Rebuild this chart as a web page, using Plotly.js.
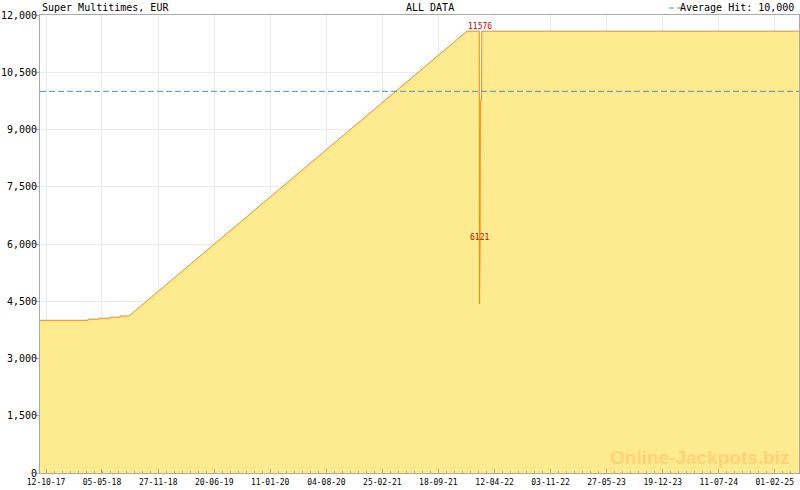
<!DOCTYPE html>
<html>
<head>
<meta charset="utf-8">
<script src="https://cdn.plot.ly/plotly-3.0.1.min.js"></script>
<style>html,body{margin:0;padding:0;background:#fff;}#chart{width:800px;height:490px;}</style>
</head>
<body>
<div id="chart"></div>
<script>
// ---- data ----
var dates = ['2017-09-20','2018-03-15','2018-03-15','2018-04-24','2018-04-24','2018-06-03','2018-06-03','2018-07-10','2018-07-10','2018-08-12','2022-01-01','2022-02-15','2022-02-16','2022-02-18','2022-02-19','2022-02-23','2022-02-24','2025-05-01'];
var jackpot = [4000,4000,4030,4030,4055,4055,4080,4080,4115,4115,11576,11576,4430,6121,9770,9770,11576,11576];
var averageHit = 10000;
var maxLabel = {date:'2022-02-16', value:11576, text:'11576'};
var minLabel = {date:'2022-02-16', value:6121, text:'6121'};
var xTickVals = ['2017-10-12','2018-05-05','2018-11-27','2019-06-20','2020-01-11','2020-08-04','2021-02-25','2021-09-18','2022-04-12','2022-11-03','2023-05-27','2023-12-19','2024-07-11','2025-02-01'];
var xTickText = ['12-10-17','05-05-18','27-11-18','20-06-19','11-01-20','04-08-20','25-02-21','18-09-21','12-04-22','03-11-22','27-05-23','19-12-23','11-07-24','01-02-25'];
var yTickVals = [0,1500,3000,4500,6000,7500,9000,10500,12000];
var yTickText = ['0','1,500','3,000','4,500','6,000','7,500','9,000','10,500','12,000'];

var mono = 'DejaVu Sans Mono, monospace';
var gray = '#aaaaaa';

var trace = {
  x: dates, y: jackpot, type: 'scatter', mode: 'lines',
  line: {color: '#ff8a00', width: 1},
  fill: 'tozeroy', fillcolor: '#feea8f',
  hoverinfo: 'skip', showlegend: false
};

var layout = {
  width: 800, height: 490,
  margin: {l: 40, r: 1, t: 15, b: 17, pad: 0},
  paper_bgcolor: '#ffffff', plot_bgcolor: '#ffffff',
  showlegend: false,
  font: {family: mono, size: 10, color: '#000'},
  xaxis: {
    type: 'date', range: ['2017-09-20','2025-05-01'],
    tickmode: 'array', tickvals: xTickVals, ticktext: xTickText,
    tickfont: {family: mono, size: 8, color: '#000'},
    ticks: 'inside', ticklen: 4, tickcolor: gray, tickwidth: 1, ticklabelstandoff: 1,
    showgrid: true, gridcolor: '#ebebeb', gridwidth: 1,
    showline: true, linecolor: gray, linewidth: 1, mirror: true,
    zeroline: false, fixedrange: true,
    minor: {tick0: '2017-10-12', dtick: 29.33*86400000, ticks: 'inside', ticklen: 2, tickcolor: gray, showgrid: false}
  },
  yaxis: {
    range: [0, 12000],
    tickmode: 'array', tickvals: yTickVals, ticktext: yTickText,
    tickfont: {family: mono, size: 10, color: '#000'},
    ticks: 'outside', ticklen: 3, tickcolor: gray, ticklabelstandoff: -3,
    showgrid: true, gridcolor: '#ebebeb', gridwidth: 1,
    showline: true, linecolor: gray, linewidth: 1, mirror: true,
    zeroline: false, fixedrange: true
  },
  shapes: [
    {type: 'line', xref: 'paper', x0: 0, x1: 1, yref: 'y', y0: averageHit, y1: averageHit,
     line: {color: '#5090b8', width: 1, dash: '6px,3px'}},
    {type: 'line', xref: 'paper', x0: (669-40)/759, x1: (683-40)/759, yref: 'paper', y0: (473-8)/458, y1: (473-8)/458,
     line: {color: '#5090b8', width: 1, dash: '5px,3px'}}
  ],
  annotations: [
    {xref: 'paper', yref: 'paper', x: (40-40)/759, y: (473-8)/458, xanchor: 'left', yanchor: 'middle',
     text: 'Super Multitimes, EUR', showarrow: false, font: {family: mono, size: 10, color: '#000'}},
    {xref: 'paper', yref: 'paper', x: (404-40)/759, y: (473-8)/458, xanchor: 'left', yanchor: 'middle',
     text: 'ALL DATA', showarrow: false, font: {family: mono, size: 10, color: '#000'}},
    {xref: 'paper', yref: 'paper', x: (796-40)/759, y: (473-8)/458, xanchor: 'right', yanchor: 'middle',
     text: 'Average Hit: 10,000', showarrow: false, font: {family: mono, size: 10, color: '#000'}},
    {xref: 'x', yref: 'y', x: maxLabel.date, y: maxLabel.value, xanchor: 'center', yanchor: 'bottom',
     text: maxLabel.text, showarrow: false, yshift: -2, font: {family: mono, size: 8, color: '#cc0000'}},
    {xref: 'x', yref: 'y', x: minLabel.date, y: minLabel.value, xanchor: 'center', yanchor: 'middle',
     text: minLabel.text, showarrow: false, yshift: 2, font: {family: mono, size: 8, color: '#cc0000'}},
    {xref: 'paper', yref: 'paper', x: (699-40)/759, y: (473-457)/458, xanchor: 'center', yanchor: 'middle',
     text: '<b>Online-Jackpots.biz</b>', showarrow: false,
     font: {family: 'Liberation Sans, Arial, sans-serif', size: 19, color: '#ffd27a'}}
  ]
};

Plotly.newPlot('chart', [trace], layout, {staticPlot: true, displayModeBar: false});
</script>
</body>
</html>
